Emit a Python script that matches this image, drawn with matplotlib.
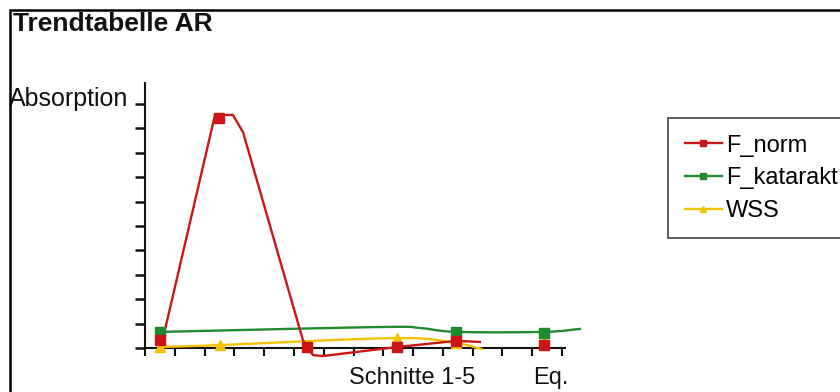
import matplotlib
matplotlib.use("Agg")
import matplotlib.pyplot as plt
from matplotlib.patches import Rectangle
from matplotlib.lines import Line2D
import numpy as np

plt.rcParams['font.family'] = ['Liberation Sans', 'DejaVu Sans']

# Measured points (x = position along the cut axis, y = absorption)
norm_x = [0.5, 2.5, 5.44, 8.46, 10.44, 13.39]
norm_y = [0.33, 9.43, 0.04, 0.04, 0.29, 0.12]
kat_x = [0.5, 10.44, 13.39]
kat_y = [0.66, 0.66, 0.61]
wss_x = [0.5, 2.52, 8.46, 10.44, 13.39]
wss_y = [0.04, 0.12, 0.41, 0.20, 0.25]

# Trend lines drawn through the series
norm_trace_x = [0.5, 0.67, 2.35, 2.95, 3.29, 5.3, 5.44, 5.64, 5.97, 8.46, 10.44, 11.24]
norm_trace_y = [0.33, 0.74, 9.55, 9.55, 8.85, 0.33, 0.04, -0.29, -0.33, 0.04, 0.29, 0.25]
kat_trace_x = [0.5, 7.89, 9.23, 10.44, 13.39, 14.6]
kat_trace_y = [0.66, 0.86, 0.82, 0.66, 0.66, 0.78]
wss_trace_x = [0.5, 2.52, 8.46, 10.44, 11.3]
wss_trace_y = [0.04, 0.12, 0.41, 0.20, -0.04]

series_names = ["F_norm", "F_katarakt", "WSS"]
colors = ["#cc1515", "#1f8a2e", "#f2c200"]
markers = ["s", "s", "^"]

x_ticks = list(range(0, 15))
y_ticks = list(range(0, 11))


def smooth(xs, ys, n=12):
    """Catmull-Rom interpolation through the given vertices."""
    xs = np.asarray(xs, float)
    ys = np.asarray(ys, float)
    px = np.concatenate([[2 * xs[0] - xs[1]], xs, [2 * xs[-1] - xs[-2]]])
    py = np.concatenate([[2 * ys[0] - ys[1]], ys, [2 * ys[-1] - ys[-2]]])
    outx, outy = [], []
    for i in range(1, len(px) - 2):
        t = np.linspace(0, 1, n, endpoint=False)
        for arr, out in ((px, outx), (py, outy)):
            p0, p1, p2, p3 = arr[i - 1], arr[i], arr[i + 1], arr[i + 2]
            out.extend(0.5 * ((2 * p1) + (-p0 + p2) * t
                              + (2 * p0 - 5 * p1 + 4 * p2 - p3) * t ** 2
                              + (-p0 + 3 * p1 - 3 * p2 + p3) * t ** 3))
    outx.append(xs[-1])
    outy.append(ys[-1])
    return outx, outy


W, H = 840, 392
fig = plt.figure(figsize=(W / 100, H / 100), dpi=100)
fig.patch.set_facecolor("white")

ax = fig.add_axes([145 / W, 1 - 348 / H, (565 - 145) / W, (348 - 83) / H])
ax.set_xlim(0, 14.1)
ax.set_ylim(0, 10.86)

for sp in ("top", "right"):
    ax.spines[sp].set_visible(False)
for sp in ("left", "bottom"):
    ax.spines[sp].set_linewidth(1.5)
    ax.spines[sp].set_color("#111111")

ax.set_xticks(x_ticks)
ax.set_yticks(y_ticks)
ax.set_xticklabels([])
ax.set_yticklabels([])
ax.tick_params(axis="x", direction="out", length=6, width=1.5, color="#111111")
ax.tick_params(axis="y", direction="out", length=7, width=1.8, color="#111111")

traces = [(norm_trace_x, norm_trace_y), (kat_trace_x, kat_trace_y), (wss_trace_x, wss_trace_y)]
points = [(norm_x, norm_y), (kat_x, kat_y), (wss_x, wss_y)]
order = [2, 1, 0]
for i in order:
    tx, ty = traces[i]
    sx, sy = smooth(tx, ty, n=6) if i != 0 else (tx, ty)
    ax.plot(sx, sy, color=colors[i], lw=1.7, clip_on=False, zorder=3 + (2 - i))
for i in order:
    px, py = points[i]
    ax.plot(px, py, ls="none", marker=markers[i], ms=6.5, color=colors[i],
            clip_on=False, zorder=6 + (2 - i))

# Captions
fig.text(13 / W, 1 - 24 / H, "Trendtabelle AR", fontsize=19, fontweight="bold",
         ha="left", va="center", color="#111111")
fig.text(9 / W, 1 - 99 / H, "Absorption", fontsize=18, ha="left", va="center",
         color="#111111")
fig.text(412 / W, 1 - 378 / H, "Schnitte 1-5", fontsize=17, ha="center",
         va="center", color="#111111")
fig.text(551 / W, 1 - 378 / H, "Eq.", fontsize=17, ha="center", va="center",
         color="#111111")

# Legend
handles = [Line2D([0], [0], color=colors[i], lw=1.7, marker=markers[i], ms=5)
           for i in range(3)]
leg = fig.legend(handles, series_names, loc="upper left",
                 bbox_to_anchor=(668 / W, 1 - 118 / H), fontsize=17,
                 frameon=True, fancybox=False, borderpad=0.7,
                 handlelength=1.6, handletextpad=0.15, labelspacing=0.45,
                 borderaxespad=0)
leg.get_frame().set_edgecolor("#111111")
leg.get_frame().set_linewidth(1.2)

# Outer frame
fig.patches.append(Rectangle((10 / W, -0.05), 1.05, 1 - 10 / H + 0.05,
                             transform=fig.transFigure, fill=False,
                             edgecolor="black", lw=1.8, zorder=10))

fig.savefig("out.png", dpi=100)
